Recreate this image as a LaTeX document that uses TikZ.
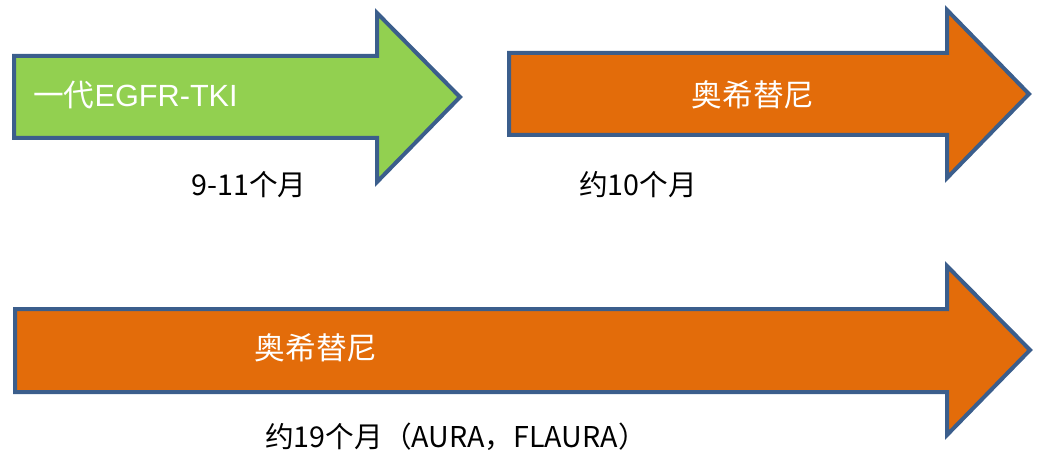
\documentclass[tikz,border=0pt]{standalone}
\usepackage{fontspec}
\setmainfont{Liberation Sans}
\newfontfamily\cjk{Noto Sans CJK SC}
\definecolor{edgeblue}{HTML}{3B5E8C}
\definecolor{arrgreen}{HTML}{92D050}
\definecolor{arrorange}{HTML}{E36C0A}
\begin{document}
\begin{tikzpicture}[x=0.75pt,y=-0.75pt,
  bigarrow/.style={draw=edgeblue,line width=3pt,line join=miter},
  intext/.style={text=white,inner sep=0pt,font=\fontsize{23}{27}\selectfont},
  lbl/.style={text=black,inner sep=0pt,font=\cjk\fontsize{21.5}{25}\selectfont}]
\useasboundingbox (0,0) rectangle (1038,452);
% arrow 1 (green)
\path[bigarrow,fill=arrgreen] (14,56) -- (377,56) -- (377,13) -- (460,97) -- (377,182) -- (377,138) -- (14,138) -- cycle;
% arrow 2 (orange)
\path[bigarrow,fill=arrorange] (509,53) -- (947,53) -- (947,10) -- (1029,94) -- (947,178) -- (947,135) -- (509,135) -- cycle;
% arrow 3 (orange, long)
\path[bigarrow,fill=arrorange] (15,309) -- (947,309) -- (947,266) -- (1030,350) -- (947,435) -- (947,392) -- (15,392) -- cycle;
% texts
\node[intext,anchor=west] (t1) at (33,95) {{\cjk 一代}EGFR-TKI};
\node[intext,font=\cjk\fontsize{23}{27}\selectfont] (t2) at (753,95) {奥希替尼};
\node[intext,font=\cjk\fontsize{23}{27}\selectfont] (t3) at (316,348) {奥希替尼};
\node[lbl] (l1) at (249,185) {9-11个月};
\node[lbl] (l2) at (638,185) {约10个月};
\node[lbl] (l3) at (456,437) {约19个月（AURA，FLAURA）};
\end{tikzpicture}
\end{document}
